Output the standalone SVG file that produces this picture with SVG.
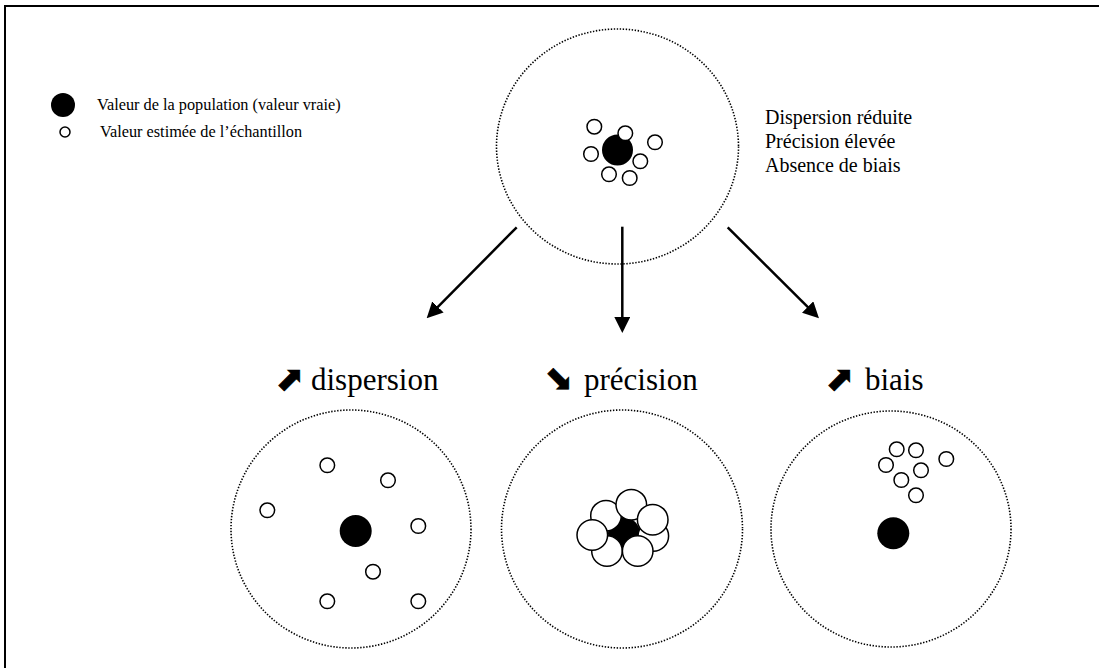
<svg xmlns="http://www.w3.org/2000/svg" width="1099" height="668" viewBox="0 0 1099 668">
<style>
.frame{fill:none;stroke:#000;stroke-width:2}
.dotted{fill:none;stroke:#000;stroke-width:1.6;stroke-dasharray:1.4 1.6}
.pop{fill:#000}
.est{fill:#fff;stroke:#000;stroke-width:1.5}
.conn{stroke:#000;stroke-width:2.5;fill:none}
.t{font-family:"Liberation Serif","Times New Roman",serif;fill:#000}
.legend{font-size:16.3px}
.desc{font-size:20px}
.lab{font-size:31px}
.sym{font-family:"DejaVu Sans",sans-serif;font-size:34px;fill:#000;stroke:#000;stroke-width:0.8}
</style>
<defs>
<marker id="ah" viewBox="0 0 16 16" refX="6" refY="8" markerWidth="16" markerHeight="16" markerUnits="userSpaceOnUse" orient="auto">
<path d="M0,0 L16,8 L0,16 z" fill="#000"/>
</marker>
</defs>
<rect class="frame" x="5" y="6" width="1110" height="700"/>

<g id="legend">
<circle class="pop" cx="63" cy="105" r="12"/>
<text class="t legend" x="97" y="110">Valeur de la population (valeur vraie)</text>
<circle class="est" cx="65" cy="132" r="5"/>
<text class="t legend" x="100" y="137">Valeur estimée de l’échantillon</text>
</g>

<g id="top-node">
<ellipse class="dotted" cx="617.5" cy="146.5" rx="121" ry="117.5"/>
<circle class="pop" cx="617.5" cy="150" r="15.5"/>
<circle class="est" cx="594.3" cy="126.7" r="7.3"/>
<circle class="est" cx="625.3" cy="133.3" r="7.3"/>
<circle class="est" cx="655" cy="142.3" r="7.3"/>
<circle class="est" cx="591" cy="154" r="7.3"/>
<circle class="est" cx="640.3" cy="161.3" r="7.3"/>
<circle class="est" cx="609" cy="174.3" r="7.3"/>
<circle class="est" cx="629.7" cy="178" r="7.3"/>
</g>

<g id="top-desc">
<text class="t desc" x="765" y="124">Dispersion réduite</text>
<text class="t desc" x="765" y="148">Précision élevée</text>
<text class="t desc" x="765" y="172">Absence de biais</text>
</g>

<g id="connectors">
<line class="conn" x1="516.7" y1="227.3" x2="433.7" y2="311.2" marker-end="url(#ah)"/>
<line class="conn" x1="622.3" y1="226.7" x2="622.3" y2="323" marker-end="url(#ah)"/>
<line class="conn" x1="727.7" y1="227.3" x2="811.9" y2="311.2" marker-end="url(#ah)"/>
</g>

<g id="label-dispersion">
<text class="sym" x="290" y="378" text-anchor="middle" dominant-baseline="central">⬈</text>
<text class="t lab" x="311" y="390">dispersion</text>
</g>
<g id="label-precision">
<text class="sym" x="559" y="378" text-anchor="middle" dominant-baseline="central">⬊</text>
<text class="t lab" x="584" y="390">précision</text>
</g>
<g id="label-biais">
<text class="sym" x="840" y="378" text-anchor="middle" dominant-baseline="central">⬈</text>
<text class="t lab" x="865" y="390">biais</text>
</g>

<g id="node-dispersion">
<ellipse class="dotted" cx="351" cy="529" rx="120" ry="119"/>
<circle class="pop" cx="355.7" cy="531" r="16"/>
<circle class="est" cx="327.3" cy="465.3" r="7.3"/>
<circle class="est" cx="388" cy="480.3" r="7.3"/>
<circle class="est" cx="267.3" cy="510.3" r="7.3"/>
<circle class="est" cx="418.3" cy="526" r="7.3"/>
<circle class="est" cx="373" cy="571.7" r="7.3"/>
<circle class="est" cx="327.3" cy="601.3" r="7.3"/>
<circle class="est" cx="418.3" cy="601.3" r="7.3"/>
</g>

<g id="node-precision">
<ellipse class="dotted" cx="622" cy="529" rx="120.5" ry="119"/>
<circle class="pop" cx="624" cy="533.3" r="16"/>
<circle class="est" cx="606" cy="515.7" r="15.3"/>
<circle class="est" cx="653.3" cy="536" r="15.3"/>
<circle class="est" cx="631.3" cy="504.7" r="15.3"/>
<circle class="est" cx="652.7" cy="519.7" r="15.3"/>
<circle class="est" cx="607" cy="551" r="15.3"/>
<circle class="est" cx="592.3" cy="535" r="15.3"/>
<circle class="est" cx="637.7" cy="551" r="15.3"/>
</g>

<g id="node-biais">
<ellipse class="dotted" cx="891" cy="529" rx="120" ry="118"/>
<circle class="pop" cx="893.3" cy="533.3" r="16"/>
<circle class="est" cx="896.7" cy="449.3" r="7.3"/>
<circle class="est" cx="916" cy="450.3" r="7.3"/>
<circle class="est" cx="946.3" cy="459" r="7.3"/>
<circle class="est" cx="886" cy="465" r="7.3"/>
<circle class="est" cx="921" cy="470.3" r="7.3"/>
<circle class="est" cx="901.3" cy="480" r="7.3"/>
<circle class="est" cx="916" cy="495.3" r="7.3"/>
</g>
</svg>
